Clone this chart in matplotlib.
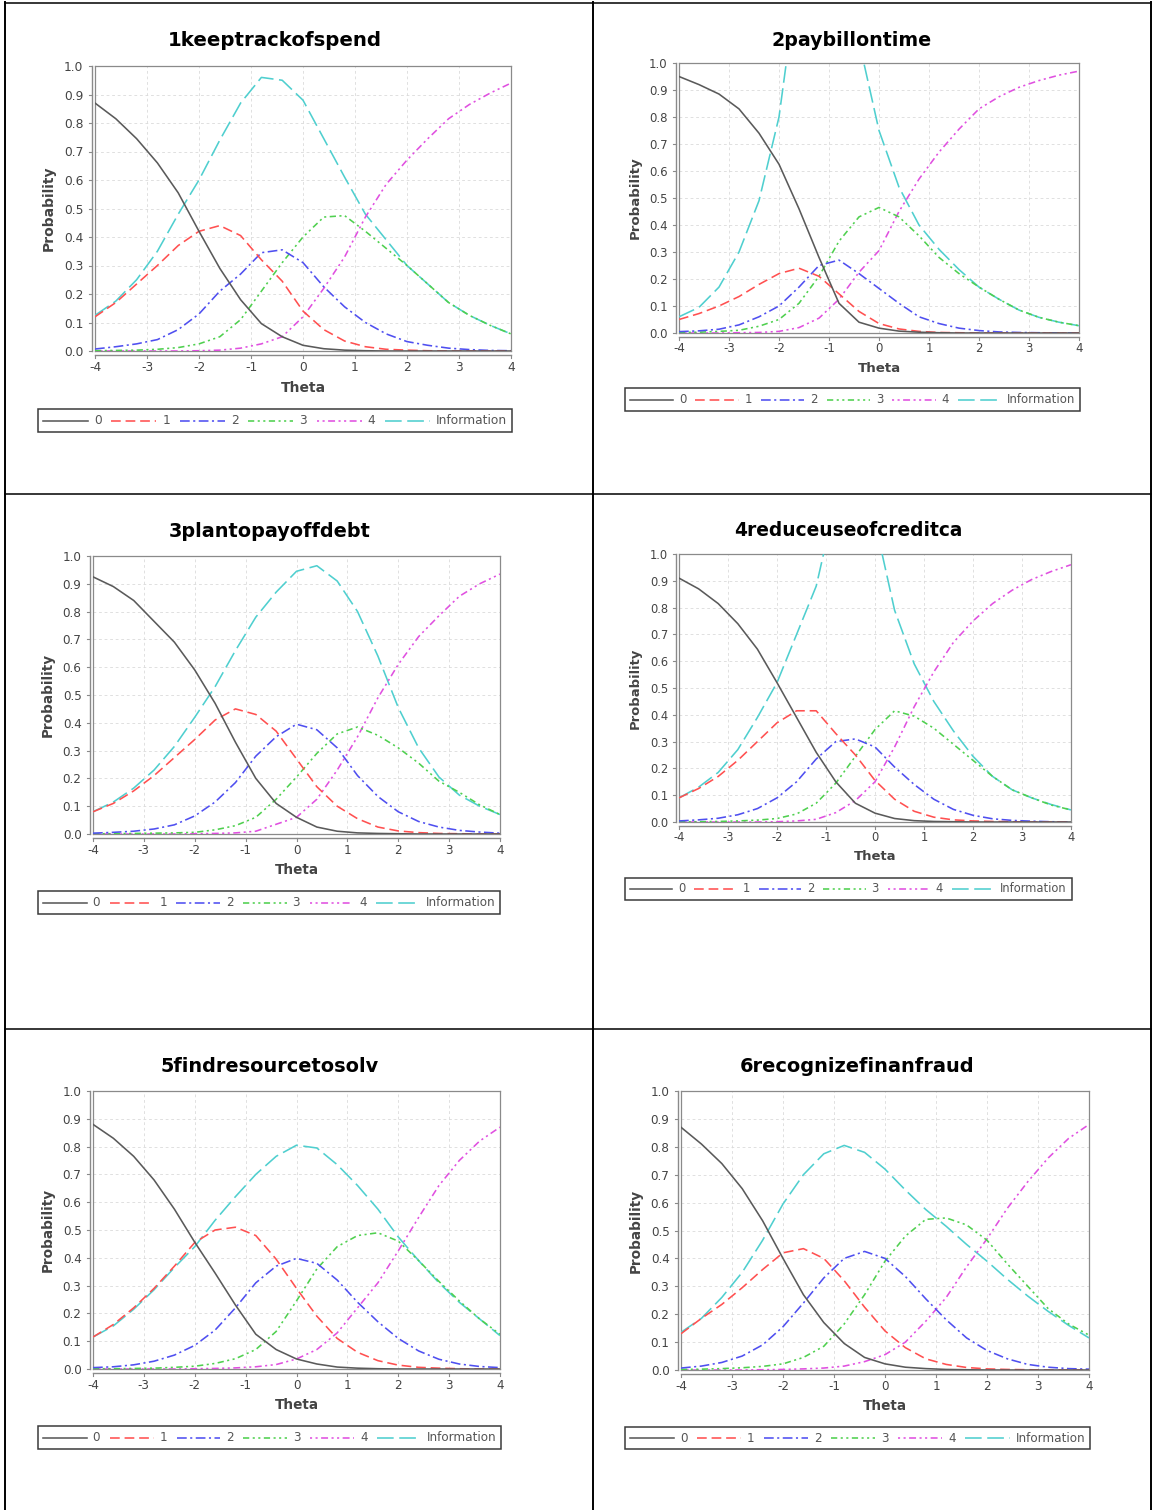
import matplotlib
matplotlib.use("Agg")
import matplotlib.pyplot as plt
from matplotlib.lines import Line2D
from matplotlib.patches import Rectangle

plt.rcParams['font.family'] = ['DejaVu Sans']
plt.rcParams['axes.unicode_minus'] = False
plt.rcParams['lines.scale_dashes'] = False

W, H = 1156, 1510

# ---------------------------------------------------------------- data
THETA = [-4.0, -3.6, -3.2, -2.8, -2.4, -2.0, -1.6, -1.2, -0.8, -0.4, 0.0,
         0.4, 0.8, 1.2, 1.6, 2.0, 2.4, 2.8, 3.2, 3.6, 4.0]

TITLES = ["1keeptrackofspend", "2paybillontime", "3plantopayoffdebt",
          "4reduceuseofcreditca", "5findresourcetosolv", "6recognizefinanfraud"]
SERIES_LABELS = ["0", "1", "2", "3", "4", "Information"]
X_TICKS = [-4, -3, -2, -1, 0, 1, 2, 3, 4]
Y_TICKS = [0.0, 0.1, 0.2, 0.3, 0.4, 0.5, 0.6, 0.7, 0.8, 0.9, 1.0]

item1_c0 = [0.87, 0.815, 0.745, 0.66, 0.555, 0.42, 0.29, 0.18, 0.096, 0.05, 0.02, 0.008, 0.003, 0.001, 0.0, 0.0, 0.0, 0.0, 0.0, 0.0, 0.0]
item1_c1 = [0.12, 0.17, 0.235, 0.30, 0.37, 0.42, 0.44, 0.405, 0.32, 0.245, 0.14, 0.075, 0.035, 0.015, 0.006, 0.003, 0.001, 0.0, 0.0, 0.0, 0.0]
item1_c2 = [0.007, 0.015, 0.025, 0.04, 0.075, 0.13, 0.21, 0.27, 0.345, 0.355, 0.31, 0.225, 0.155, 0.10, 0.06, 0.033, 0.02, 0.01, 0.005, 0.002, 0.001]
item1_c3 = [0.001, 0.002, 0.003, 0.006, 0.012, 0.025, 0.05, 0.11, 0.21, 0.31, 0.40, 0.47, 0.475, 0.42, 0.36, 0.30, 0.235, 0.17, 0.125, 0.09, 0.06]
item1_c4 = [0.0, 0.0, 0.0, 0.0, 0.0, 0.001, 0.003, 0.01, 0.025, 0.05, 0.12, 0.22, 0.33, 0.47, 0.585, 0.67, 0.745, 0.815, 0.865, 0.905, 0.94]
item1_info = [0.125, 0.175, 0.25, 0.35, 0.48, 0.60, 0.74, 0.87, 0.96, 0.95, 0.88, 0.745, 0.61, 0.48, 0.39, 0.30, 0.235, 0.17, 0.125, 0.09, 0.06]

item2_c0 = [0.95, 0.92, 0.885, 0.83, 0.74, 0.625, 0.46, 0.28, 0.11, 0.04, 0.018, 0.007, 0.003, 0.001, 0.0, 0.0, 0.0, 0.0, 0.0, 0.0, 0.0]
item2_c1 = [0.05, 0.072, 0.10, 0.135, 0.18, 0.22, 0.24, 0.21, 0.145, 0.08, 0.035, 0.015, 0.006, 0.002, 0.001, 0.0, 0.0, 0.0, 0.0, 0.0, 0.0]
item2_c2 = [0.005, 0.008, 0.014, 0.03, 0.06, 0.10, 0.17, 0.25, 0.27, 0.22, 0.165, 0.11, 0.06, 0.035, 0.018, 0.009, 0.004, 0.002, 0.001, 0.0, 0.0]
item2_c3 = [0.002, 0.003, 0.006, 0.01, 0.025, 0.05, 0.11, 0.21, 0.34, 0.43, 0.465, 0.43, 0.36, 0.28, 0.22, 0.17, 0.125, 0.085, 0.058, 0.04, 0.027]
item2_c4 = [0.0, 0.0, 0.0, 0.001, 0.002, 0.006, 0.02, 0.055, 0.125, 0.225, 0.305, 0.45, 0.57, 0.67, 0.755, 0.83, 0.875, 0.91, 0.935, 0.955, 0.97]
item2_info = [0.06, 0.095, 0.17, 0.30, 0.49, 0.80, 1.35, 1.7, 1.6, 1.08, 0.75, 0.54, 0.40, 0.31, 0.235, 0.17, 0.125, 0.085, 0.058, 0.04, 0.027]

item3_c0 = [0.925, 0.89, 0.84, 0.765, 0.69, 0.59, 0.47, 0.33, 0.20, 0.11, 0.06, 0.025, 0.01, 0.004, 0.002, 0.001, 0.0, 0.0, 0.0, 0.0, 0.0]
item3_c1 = [0.08, 0.11, 0.155, 0.21, 0.275, 0.34, 0.41, 0.45, 0.43, 0.37, 0.27, 0.17, 0.10, 0.055, 0.025, 0.011, 0.005, 0.002, 0.001, 0.0, 0.0]
item3_c2 = [0.003, 0.006, 0.01, 0.018, 0.033, 0.065, 0.115, 0.185, 0.28, 0.35, 0.395, 0.375, 0.31, 0.21, 0.135, 0.08, 0.045, 0.025, 0.013, 0.007, 0.003]
item3_c3 = [0.001, 0.001, 0.002, 0.003, 0.004, 0.006, 0.015, 0.03, 0.06, 0.125, 0.205, 0.29, 0.36, 0.385, 0.355, 0.31, 0.255, 0.19, 0.15, 0.105, 0.07]
item3_c4 = [0.0, 0.0, 0.0, 0.0, 0.0, 0.001, 0.002, 0.004, 0.01, 0.035, 0.06, 0.125, 0.23, 0.35, 0.49, 0.61, 0.71, 0.785, 0.855, 0.90, 0.935]
item3_info = [0.08, 0.115, 0.165, 0.23, 0.315, 0.42, 0.53, 0.66, 0.78, 0.87, 0.945, 0.965, 0.91, 0.80, 0.64, 0.455, 0.31, 0.205, 0.14, 0.10, 0.07]

item4_c0 = [0.91, 0.87, 0.815, 0.74, 0.645, 0.52, 0.39, 0.26, 0.15, 0.07, 0.033, 0.013, 0.005, 0.002, 0.001, 0.0, 0.0, 0.0, 0.0, 0.0, 0.0]
item4_c1 = [0.09, 0.125, 0.17, 0.23, 0.30, 0.37, 0.415, 0.415, 0.33, 0.25, 0.155, 0.085, 0.04, 0.018, 0.008, 0.004, 0.002, 0.001, 0.0, 0.0, 0.0]
item4_c2 = [0.004, 0.008, 0.014, 0.027, 0.05, 0.09, 0.15, 0.235, 0.30, 0.31, 0.28, 0.205, 0.14, 0.085, 0.047, 0.025, 0.012, 0.006, 0.003, 0.001, 0.0]
item4_c3 = [0.001, 0.001, 0.002, 0.004, 0.007, 0.013, 0.03, 0.07, 0.145, 0.245, 0.345, 0.415, 0.395, 0.35, 0.29, 0.23, 0.17, 0.12, 0.09, 0.063, 0.045]
item4_c4 = [0.0, 0.0, 0.0, 0.0, 0.0, 0.001, 0.004, 0.01, 0.035, 0.08, 0.15, 0.28, 0.43, 0.56, 0.67, 0.75, 0.815, 0.865, 0.905, 0.935, 0.96]
item4_info = [0.09, 0.13, 0.185, 0.27, 0.39, 0.52, 0.70, 0.88, 1.2, 1.35, 1.12, 0.79, 0.59, 0.45, 0.34, 0.245, 0.17, 0.12, 0.09, 0.065, 0.045]

item5_c0 = [0.88, 0.83, 0.765, 0.68, 0.575, 0.456, 0.345, 0.23, 0.125, 0.07, 0.036, 0.018, 0.007, 0.003, 0.001, 0.0, 0.0, 0.0, 0.0, 0.0, 0.0]
item5_c1 = [0.115, 0.16, 0.22, 0.29, 0.37, 0.455, 0.50, 0.51, 0.48, 0.395, 0.29, 0.19, 0.11, 0.06, 0.03, 0.014, 0.006, 0.003, 0.001, 0.0, 0.0]
item5_c2 = [0.005, 0.008, 0.015, 0.028, 0.05, 0.085, 0.14, 0.22, 0.31, 0.37, 0.398, 0.38, 0.32, 0.24, 0.17, 0.11, 0.065, 0.035, 0.018, 0.009, 0.005]
item5_c3 = [0.001, 0.001, 0.002, 0.003, 0.006, 0.01, 0.02, 0.037, 0.07, 0.135, 0.245, 0.36, 0.44, 0.48, 0.49, 0.46, 0.39, 0.315, 0.245, 0.18, 0.125]
item5_c4 = [0.0, 0.0, 0.0, 0.0, 0.0, 0.001, 0.002, 0.004, 0.008, 0.016, 0.036, 0.07, 0.13, 0.22, 0.31, 0.425, 0.545, 0.66, 0.75, 0.82, 0.87]
item5_info = [0.115, 0.155, 0.215, 0.285, 0.365, 0.44, 0.535, 0.62, 0.70, 0.765, 0.805, 0.795, 0.735, 0.66, 0.575, 0.475, 0.39, 0.31, 0.24, 0.18, 0.12]

item6_c0 = [0.87, 0.81, 0.74, 0.65, 0.535, 0.40, 0.27, 0.17, 0.095, 0.045, 0.022, 0.01, 0.005, 0.002, 0.001, 0.0, 0.0, 0.0, 0.0, 0.0, 0.0]
item6_c1 = [0.13, 0.185, 0.235, 0.295, 0.36, 0.42, 0.435, 0.40, 0.32, 0.225, 0.14, 0.08, 0.04, 0.02, 0.009, 0.004, 0.002, 0.001, 0.0, 0.0, 0.0]
item6_c2 = [0.007, 0.014, 0.027, 0.05, 0.09, 0.155, 0.24, 0.33, 0.40, 0.425, 0.40, 0.335, 0.255, 0.18, 0.115, 0.07, 0.04, 0.02, 0.01, 0.005, 0.003]
item6_c3 = [0.002, 0.003, 0.005, 0.008, 0.013, 0.022, 0.045, 0.085, 0.165, 0.27, 0.39, 0.48, 0.54, 0.545, 0.52, 0.465, 0.38, 0.30, 0.22, 0.165, 0.125]
item6_c4 = [0.0, 0.0, 0.0, 0.0, 0.001, 0.002, 0.004, 0.007, 0.014, 0.03, 0.055, 0.10, 0.175, 0.26, 0.37, 0.47, 0.58, 0.675, 0.76, 0.83, 0.88]
item6_info = [0.135, 0.185, 0.26, 0.35, 0.465, 0.595, 0.70, 0.775, 0.805, 0.78, 0.72, 0.645, 0.575, 0.515, 0.45, 0.39, 0.325, 0.265, 0.21, 0.16, 0.115]

ITEMS = [
    [item1_c0, item1_c1, item1_c2, item1_c3, item1_c4, item1_info],
    [item2_c0, item2_c1, item2_c2, item2_c3, item2_c4, item2_info],
    [item3_c0, item3_c1, item3_c2, item3_c3, item3_c4, item3_info],
    [item4_c0, item4_c1, item4_c2, item4_c3, item4_c4, item4_info],
    [item5_c0, item5_c1, item5_c2, item5_c3, item5_c4, item5_info],
    [item6_c0, item6_c1, item6_c2, item6_c3, item6_c4, item6_info],
]

# ---------------------------------------------------------------- style
COLORS = ["#5a5a5a", "#ff5050", "#4f4ff0", "#4fd04f", "#e050e0", "#4fcfcf"]
DASHES = [None, (7, 3.5), (7, 2.5, 1.5, 2.5), (4.5, 2.5, 1.5, 2.5, 1.5, 2.5),
          (1.5, 2.5, 1.5, 2.5, 5, 2.5), (12, 4)]
TEXT_GRAY = "#444444"
AXIS_GRAY = "#8a8a8a"

# layout in pixels: plot box (left, right, top, bottom)
BOXES = [(95, 511, 66, 351), (679, 1079, 63, 333), (93, 500, 556, 834),
         (679, 1071, 554, 822), (93, 500, 1091, 1369), (681, 1089, 1091, 1370)]
TITLE_POS = [(275, 41), (852, 40), (270, 531), (848, 530), (270, 1066), (857, 1066)]
LEGEND_BOX = [(38, 512, 409, 432), (625, 1080, 388, 411), (38, 500, 891, 914),
              (625, 1072, 878, 900), (38, 501, 1426, 1449), (625, 1090, 1427, 1449)]


def fx(x):
    return x / W


def fy(y):
    return 1 - y / H


def style_line(line, k):
    if DASHES[k] is not None:
        line.set_dashes(DASHES[k])


fig = plt.figure(figsize=(W / 100, H / 100), dpi=100)
fig.patch.set_facecolor("white")

for i, series in enumerate(ITEMS):
    x0, x1, yt, yb = BOXES[i]
    s = (x1 - x0) / 416.0
    ax = fig.add_axes([fx(x0), fy(yb), (x1 - x0) / W, (yb - yt) / H])
    ax.set_xlim(-4, 4)
    ax.set_ylim(0, 1)
    ax.set_xticks(X_TICKS)
    ax.set_xticklabels([str(t) for t in X_TICKS])
    ax.set_yticks(Y_TICKS)
    ax.set_yticklabels(["%.1f" % t for t in Y_TICKS])
    ax.tick_params(length=0, labelsize=8.8 * s, labelcolor=TEXT_GRAY)
    ax.tick_params(axis="y", pad=8.4 * s)
    ax.tick_params(axis="x", pad=7.0 * s)
    ax.grid(True, color="#dadada", lw=0.6, ls=(0, (2, 2)))
    ax.set_axisbelow(True)
    for sp in ax.spines.values():
        sp.set_color(AXIS_GRAY)
        sp.set_linewidth(0.9)

    for k, vals in enumerate(series):
        ln, = ax.plot(THETA, vals, color=COLORS[k], lw=1.15,
                      label=SERIES_LABELS[k], zorder=3 + (5 - k) * 0.1)
        style_line(ln, k)

    # offset axis lines with outward ticks
    fig.add_artist(Line2D([fx(x0 - 3.5)] * 2, [fy(yt), fy(yb)], color=AXIS_GRAY, lw=1.0))
    fig.add_artist(Line2D([fx(x0), fx(x1)], [fy(yb + 4)] * 2, color=AXIS_GRAY, lw=1.0))
    for t in Y_TICKS:
        ypx = yb - t * (yb - yt)
        fig.add_artist(Line2D([fx(x0 - 6), fx(x0 - 3.5)], [fy(ypx)] * 2, color=AXIS_GRAY, lw=0.8))
    for t in X_TICKS:
        xpx = x0 + (t + 4) / 8 * (x1 - x0)
        fig.add_artist(Line2D([fx(xpx)] * 2, [fy(yb + 4), fy(yb + 6.5)], color=AXIS_GRAY, lw=0.8))

    # titles and axis labels
    tx, ty = TITLE_POS[i]
    fig.text(fx(tx), fy(ty), TITLES[i], ha="center", va="center",
             fontsize=14.2 * s, fontweight="bold", color="black")
    fig.text(fx((x0 + x1) / 2), fy(yb + 37 * s), "Theta", ha="center", va="center",
             fontsize=10 * s, fontweight="bold", color=TEXT_GRAY)
    fig.text(fx(x0 - 46 * s), fy((yt + yb) / 2), "Probability", ha="center", va="center",
             rotation=90, fontsize=10 * s, fontweight="bold", color=TEXT_GRAY)

    # legend strip
    lx0, lx1, ly0, ly1 = LEGEND_BOX[i]
    fig.add_artist(Rectangle((fx(lx0), fy(ly1)), (lx1 - lx0) / W, (ly1 - ly0) / H,
                             fill=False, edgecolor="#3a3a3a", lw=1.1, transform=fig.transFigure))
    r = (lx1 - lx0) / 474.0
    ymid = (ly0 + ly1) / 2
    for k in range(6):
        sx = lx0 + (5 + 68.4 * k) * r
        ex = sx + 45 * r
        ln = Line2D([fx(sx), fx(ex)], [fy(ymid)] * 2, color=COLORS[k], lw=1.15)
        style_line(ln, k)
        fig.add_artist(ln)
        fig.text(fx(ex + 6 * r), fy(ymid), SERIES_LABELS[k], ha="left", va="center",
                 fontsize=8.8 * s, color="#555555")

# table rules framing the six panels
RULE_W = 1.4
for xv in (5, 593, 1151):
    fig.add_artist(Line2D([fx(xv)] * 2, [fy(2), fy(H)], color="black", lw=RULE_W))
for yv in (2.5, 493.5, 1028.5):
    fig.add_artist(Line2D([fx(5), fx(1151)], [fy(yv)] * 2, color="black", lw=1.1))

fig.savefig("out.png", dpi=100, facecolor="white")
